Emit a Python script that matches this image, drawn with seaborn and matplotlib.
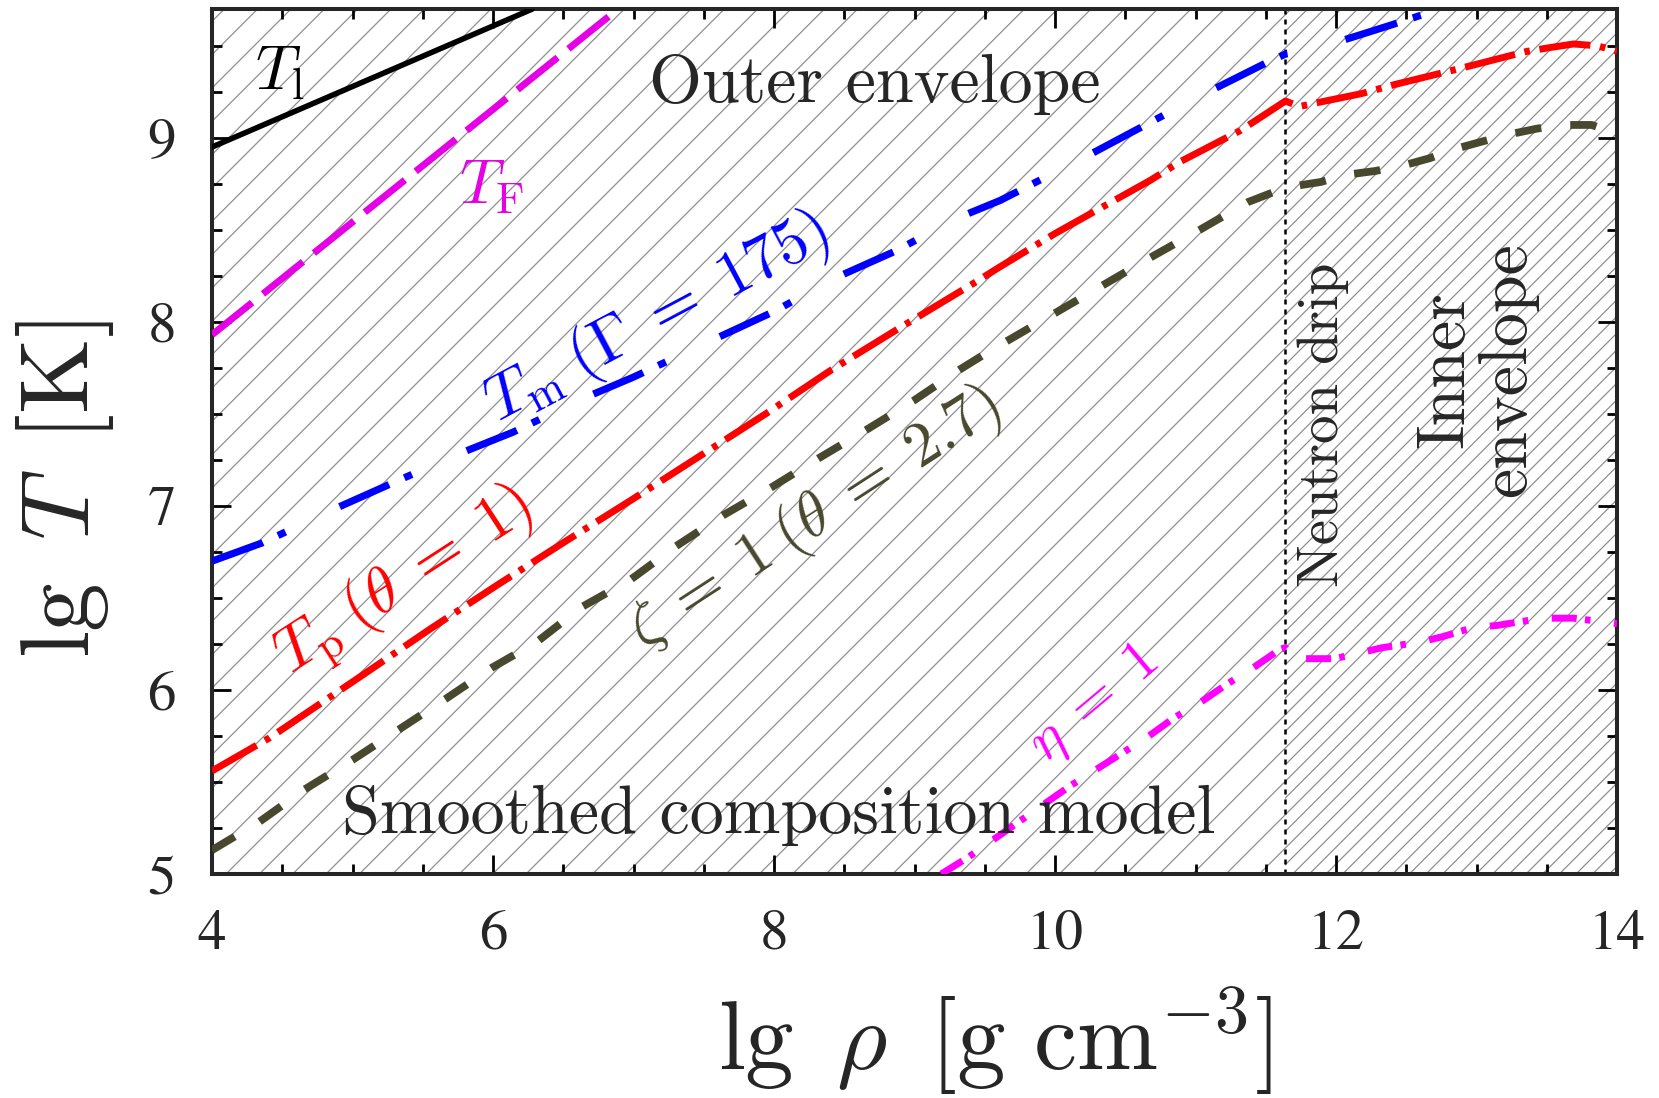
import matplotlib
matplotlib.use("Agg")
import matplotlib.pyplot as plt
from matplotlib.ticker import MultipleLocator
import pandas as pd
import seaborn as sns

# ---- curve data: lg rho [g cm^-3] and lg T [K] ----
lg_rho_Tl = [4.0, 6.28]
lg_T_Tl = [8.95, 9.70]

lg_rho_TF = [4.0, 6.89]
lg_T_TF = [7.93, 9.70]

lg_rho_Tm = [4.0, 4.36, 4.89, 5.36, 5.78, 6.14, 6.66, 7.00, 7.53, 8.01, 8.41,
             8.88, 9.26, 9.61, 10.25, 11.0, 11.51, 11.64, 11.84, 12.38, 12.78]
lg_T_Tm = [6.70, 6.80, 6.99, 7.15, 7.29, 7.40, 7.59, 7.70, 7.89, 8.06, 8.23,
           8.39, 8.55, 8.66, 8.91, 9.215, 9.41, 9.455, 9.48, 9.61, 9.71]

lg_rho_Tp = [4.0, 4.41, 5.07, 5.55, 6.03, 6.50, 6.98, 7.47, 7.94, 8.41, 8.90,
             9.40, 9.61, 10.0, 10.68, 10.89, 11.32, 11.64, 11.74, 11.86, 12.18,
             12.42, 12.74, 12.95, 13.36, 13.52, 13.69, 13.86, 14.0]
lg_T_Tp = [5.56, 5.74, 6.08, 6.33, 6.57, 6.80, 7.03, 7.27, 7.50, 7.74, 7.97,
           8.20, 8.30, 8.48, 8.77, 8.87, 9.04, 9.20, 9.17, 9.19, 9.24,
           9.29, 9.35, 9.39, 9.47, 9.49, 9.51, 9.50, 9.47]

lg_rho_zeta = [4.0, 4.33, 4.66, 5.0, 5.32, 5.66, 5.99, 6.31, 6.63, 6.98, 7.30,
               7.64, 7.98, 8.32, 8.65, 8.99, 9.32, 9.51, 10.68, 11.03, 11.37,
               11.64, 11.89, 12.08, 12.28, 12.48, 12.67, 12.85, 13.04, 13.24,
               13.43, 13.61, 13.82, 14.0]
lg_T_zeta = [5.13, 5.28, 5.46, 5.62, 5.78, 5.95, 6.12, 6.26, 6.45, 6.60, 6.78,
             6.95, 7.10, 7.26, 7.41, 7.57, 7.74, 7.83, 8.35, 8.50, 8.65,
             8.73, 8.76, 8.80, 8.82, 8.85, 8.89, 8.94, 8.98, 9.02,
             9.05, 9.07, 9.07, 9.02]

lg_rho_eta = [9.19, 9.38, 10.11, 10.65, 10.85, 11.03, 11.22, 11.39, 11.60, 11.64,
              11.72, 11.99, 12.16, 12.33, 12.60, 12.76, 12.98, 13.14, 13.47,
              13.69, 13.90, 14.0]
lg_T_eta = [5.0, 5.09, 5.48, 5.74, 5.85, 5.93, 6.03, 6.11, 6.22, 6.23,
            6.17, 6.17, 6.20, 6.23, 6.26, 6.29, 6.34, 6.35, 6.39,
            6.39, 6.37, 6.36]

lg_rho_drip = 11.64
x_ticks = [4, 6, 8, 10, 12, 14]
y_ticks = [5, 6, 7, 8, 9]

# ---- style ----
sns.set_style("ticks")
plt.rcParams.update({
    "mathtext.fontset": "cm",
    "lines.scale_dashes": False,
    "hatch.linewidth": 0.9,
    "hatch.color": "#8f8f8f",
    "axes.linewidth": 2.9,
})
plt.rcParams["font.family"] = ["cmr10", "DejaVu Serif"]

fig = plt.figure(figsize=(16.59, 10.98), dpi=100)
ax = fig.add_axes([0.1278, 0.204, 0.8469, 0.7878])
ax.set_xlim(4, 14)
ax.set_ylim(5, 9.70)

# background regions: outer envelope and inner envelope
ax.axvspan(4, lg_rho_drip, facecolor="none", edgecolor="#8f8f8f", hatch="/", lw=0, zorder=0)
ax.axvspan(lg_rho_drip, 14, facecolor="none", edgecolor="#8f8f8f", hatch="//", lw=0, zorder=0)
ax.axvline(lg_rho_drip, color="black", lw=1.8, linestyle=(0, (3.6, 3.6)), zorder=1)


def curve(x, y, color, lw, ls, z=3):
    df = pd.DataFrame({"lg_rho": x, "lg_T": y})
    sns.lineplot(data=df, x="lg_rho", y="lg_T", ax=ax, color=color, lw=lw,
                 linestyle=ls, sort=False, estimator=None, zorder=z)


curve(lg_rho_Tl, lg_T_Tl, "black", 4.0, "-")
curve(lg_rho_TF, lg_T_TF, "#e600e6", 5.0, (0, (37, 10)))
curve(lg_rho_Tm, lg_T_Tm, "#0000ff", 5.2, (0, (39, 12, 6, 43)))
curve(lg_rho_Tp, lg_T_Tp, "#ff0000", 5.0, (0, (37, 7, 4, 7)))
curve(lg_rho_zeta, lg_T_zeta, "#48482e", 5.6, (0, (19, 21)))
curve(lg_rho_eta, lg_T_eta, "#ff00ff", 5.0, (0, (18, 6, 4, 17)))

# ---- annotations ----
ax.text(4.48, 9.35, r"$T_\mathrm{l}$", fontsize=45, color="black", ha="center", va="center")
ax.text(5.99, 8.73, r"$T_\mathrm{F}$", fontsize=45, color="#e600e6", ha="center", va="center")
ax.text(7.17, 8.02, r"$T_\mathrm{m}\;(\Gamma\;=\;175)$", fontsize=46, color="#0000ff",
        rotation=28, rotation_mode="anchor", ha="center", va="center")
ax.text(5.37, 6.58, r"$T_\mathrm{p}\;(\theta\;=\;1)$", fontsize=46, color="#ff0000",
        rotation=33, rotation_mode="anchor", ha="center", va="center")
ax.text(8.29, 6.93, r"$\zeta\;=\;1\;(\theta\;=\;2.7)$", fontsize=45, color="#48482e",
        rotation=33, rotation_mode="anchor", ha="center", va="center")
ax.text(10.28, 5.92, r"$\eta\;=\;1$", fontsize=42, color="#ff00ff",
        rotation=40, rotation_mode="anchor", ha="center", va="center")
ax.text(8.72, 9.29, "Outer envelope", fontsize=49, ha="center", va="center")
ax.text(8.03, 5.32, "Smoothed composition model", fontsize=49, ha="center", va="center")
ax.text(11.91, 7.44, "Neutron drip", fontsize=41, rotation=90, ha="center", va="center")
ax.text(13.0, 7.74, "Inner\nenvelope", fontsize=49, rotation=90, ha="center", va="center",
        multialignment="center", linespacing=1.0)

# ---- axes ----
ax.set_xticks(x_ticks)
ax.set_yticks(y_ticks)
ax.xaxis.set_minor_locator(MultipleLocator(0.5))
ax.yaxis.set_minor_locator(MultipleLocator(0.25))
ax.tick_params(which="both", direction="in", top=True, right=True, width=2.0, color="black")
ax.tick_params(which="major", length=14, labelsize=41, labelfontfamily="STIXGeneral")
ax.tick_params(which="minor", length=7)
ax.tick_params(axis="x", which="major", pad=26)
ax.tick_params(axis="y", which="major", pad=26)

ax.set_xlabel(r"$\mathrm{lg}\ \,\rho\ \,[\mathrm{g\ cm}^{-3}]$", fontsize=70)
ax.set_ylabel(r"$\mathrm{lg}\ \,T\ \,[\mathrm{K}]$", fontsize=70)
ax.xaxis.set_label_coords(0.557, -0.128)
ax.yaxis.set_label_coords(-0.068, 0.445)

fig.savefig("out.png", dpi=100)
